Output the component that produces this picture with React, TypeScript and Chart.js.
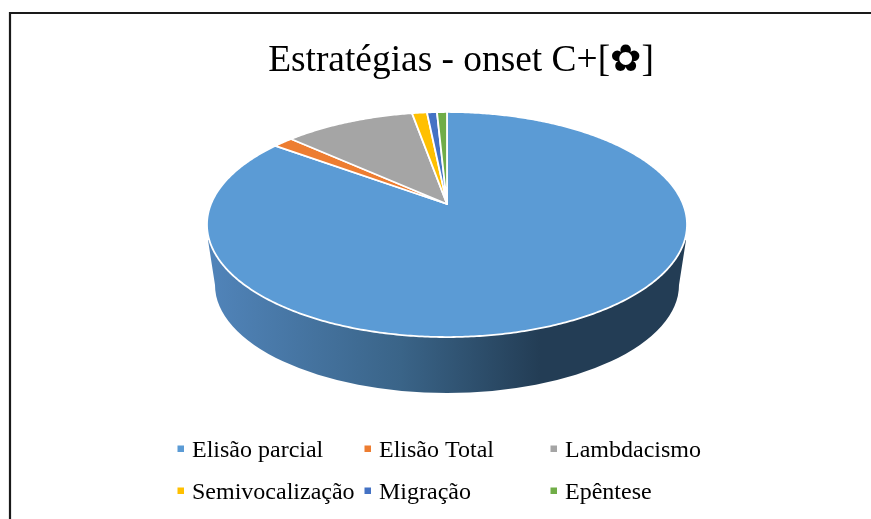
import React, { useEffect, useRef } from "react";
import { Chart, registerables } from "chart.js";

Chart.register(...registerables);

const categories = ["Elisão parcial", "Elisão Total", "Lambdacismo", "Semivocalização", "Migração", "Epêntese"];
const values = [85.1, 1.6, 10.5, 1.2, 0.8, 0.8];
const colors = ["#5B9BD5", "#ED7D31", "#A5A5A5", "#FFC000", "#4472C4", "#70AD47"];
const titleText = "Estratégias - onset C+[✿]";

const legendColumns = [178, 365, 551];
const legendRows = [449, 491];

const SERIF = '"Liberation Serif", "DejaVu Sans", serif';

// Perspective projection of the pie's unit circle on the page
const view = { cx: 447, cy: 204, sx: 236, sy: 108.8, k: -0.1822 };
const project = (angle: number) => {
  const u = Math.cos(angle);
  const v = Math.sin(angle);
  const w = 1 + view.k * v;
  return [view.cx + (view.sx * u) / w, view.cy + (view.sy * v) / w];
};

const perspectivePie = {
  id: "perspectivePie",
  beforeDraw(chart: any) {
    const { ctx } = chart;
    ctx.save();
    // chart frame, running off the page on the right and the bottom
    ctx.strokeStyle = "#1a1a1a";
    ctx.lineWidth = 2.2;
    ctx.beginPath();
    ctx.moveTo(10, 530);
    ctx.lineTo(10, 13);
    ctx.lineTo(880, 13);
    ctx.stroke();
    ctx.restore();
  },
  beforeDatasetDraw(chart: any, args: any) {
    const { ctx } = chart;
    const meta = args.meta;
    ctx.save();
    // the pie's wall
    const grad = ctx.createLinearGradient(215, 0, 679, 0);
    grad.addColorStop(0, "#5083B8");
    grad.addColorStop(0.4, "#3A6488");
    grad.addColorStop(0.7, "#233D55");
    grad.addColorStop(1, "#233D55");
    ctx.fillStyle = grad;
    ctx.beginPath();
    ctx.moveTo(208, 240);
    ctx.lineTo(215, 285);
    ctx.ellipse(447, 285, 232, 108, 0, Math.PI, 0, true);
    ctx.lineTo(686, 240);
    ctx.closePath();
    ctx.fill();

    // the slices
    meta.data.forEach((arc: any) => {
      const { startAngle, endAngle, options } = arc;
      const steps = Math.max(4, Math.ceil((endAngle - startAngle) / 0.01));
      ctx.beginPath();
      ctx.moveTo(view.cx, view.cy);
      for (let i = 0; i <= steps; i++) {
        const [x, y] = project(startAngle + ((endAngle - startAngle) * i) / steps);
        ctx.lineTo(x, y);
      }
      ctx.closePath();
      ctx.fillStyle = options.backgroundColor;
      ctx.fill();
      ctx.strokeStyle = options.borderColor;
      ctx.lineWidth = options.borderWidth;
      ctx.lineJoin = "round";
      ctx.stroke();
    });
    ctx.restore();
    return false;
  },
  afterDraw(chart: any) {
    const { ctx } = chart;
    ctx.save();
    ctx.font = `24px ${SERIF}`;
    ctx.textBaseline = "middle";
    ctx.textAlign = "left";
    categories.forEach((label, i) => {
      const x = legendColumns[i % 3];
      const y = legendRows[Math.floor(i / 3)];
      ctx.fillStyle = colors[i];
      ctx.fillRect(x - 0.5, y - 3.5, 6.5, 6.5);
      ctx.fillStyle = "#000000";
      ctx.fillText(label, x + 14, y + 2);
    });
    ctx.restore();
  },
};

export default function App() {
  const ref = useRef<HTMLCanvasElement>(null);
  useEffect(() => {
    document.body.style.margin = "0";
    document.body.style.background = "#ffffff";
    const chart = new Chart(ref.current as HTMLCanvasElement, {
      type: "pie",
      data: {
        labels: categories,
        datasets: [{ data: values, backgroundColor: colors, borderColor: "#ffffff", borderWidth: 1.8 }],
      },
      options: {
        responsive: false,
        animation: false,
        layout: { padding: { left: 51 } },
        plugins: {
          legend: { display: false },
          tooltip: { enabled: false },
          title: {
            display: true,
            text: titleText,
            color: "#000000",
            font: { family: SERIF, size: 37.4, weight: "normal" },
            padding: { top: 39, bottom: 10 },
          },
        },
      } as any,
      plugins: [perspectivePie],
    });
    return () => chart.destroy();
  }, []);
  return <canvas ref={ref} width={871} height={519} style={{ display: "block" }} />;
}
